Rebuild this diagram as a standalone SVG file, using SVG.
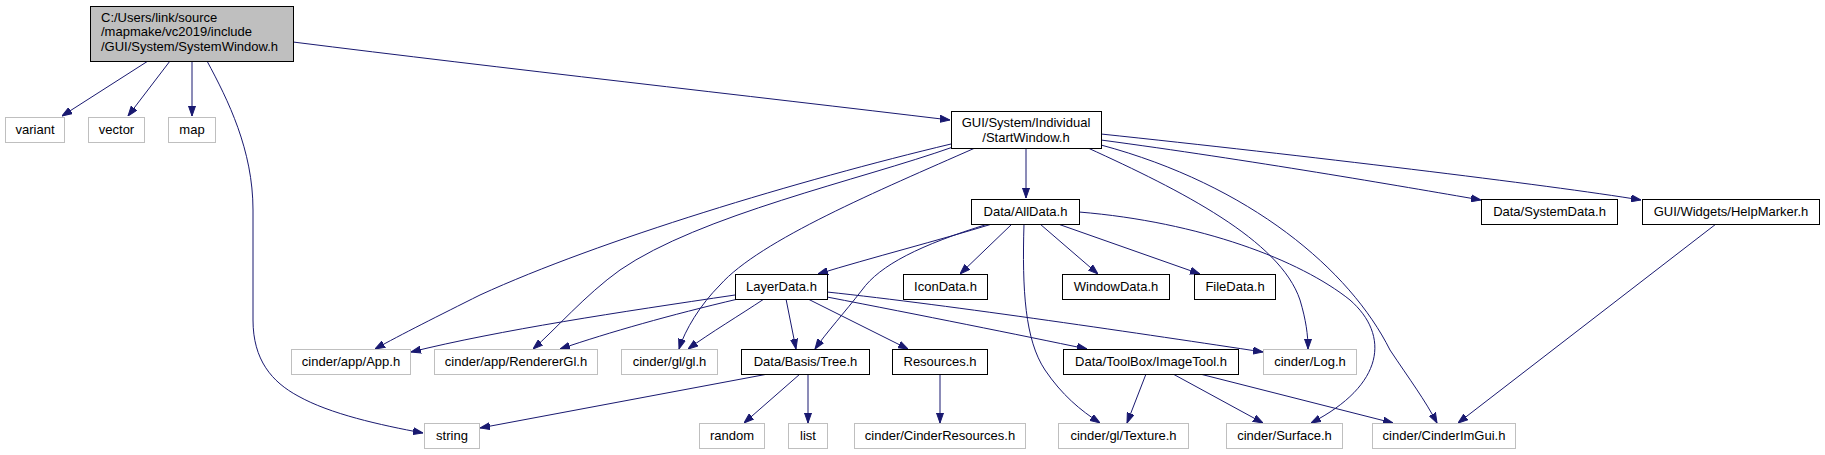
<svg xmlns="http://www.w3.org/2000/svg" width="1825" height="455" viewBox="0 0 1825 455">
<style>
.n rect{fill:#fff;stroke:#000;stroke-width:1}
.g rect{fill:#fff;stroke:#bfbfbf;stroke-width:1}
.m rect{fill:#bfbfbf;stroke:#000;stroke-width:1}
text{font-family:"Liberation Sans",Arial,sans-serif;font-size:13px;fill:#000}
.c{text-anchor:middle}
#edges path{fill:none;stroke:#191970;stroke-width:1;marker-end:url(#ah)}
</style>
<defs>
<marker id="ah" markerUnits="userSpaceOnUse" viewBox="0 -4 10 8" refX="10" refY="0" markerWidth="10" markerHeight="8" orient="auto">
<path d="M0,-3.5 L10,0 L0,3.5 z" fill="#191970" stroke="#191970" stroke-width="1"/>
</marker>
</defs>
<rect width="1825" height="455" fill="#fff"/>
<g id="edges">
<path d="M148,61 L62,116"/>
<path d="M170,61 L128,116"/>
<path d="M192,61 L192,116"/>
<path d="M207,61 C228,100 253,150 253,210 L253,320 C253,360 272,382 298,396 C330,414 380,425 423,433"/>
<path d="M293,42 C500,68 750,96 950,120"/>
<path d="M1026,148 L1026,198"/>
<path d="M1101,140 C1250,160 1400,186 1481,200"/>
<path d="M1101,134 C1300,155 1550,185 1641,200"/>
<path d="M951,144 C800,180 600,240 480,295 C440,315 400,335 375,349"/>
<path d="M953,147 C860,180 700,215 620,270 C585,295 555,330 533,349"/>
<path d="M975,148 C880,190 760,240 720,285 C700,305 685,330 679,349"/>
<path d="M1088,148 C1180,190 1280,240 1300,300 C1306,320 1308,335 1308,349"/>
<path d="M1101,145 C1250,185 1350,270 1390,350 C1410,380 1425,400 1437,423"/>
<path d="M992,224 C940,240 870,258 818,274"/>
<path d="M988,224 C920,245 880,265 862,290 C845,312 826,333 815,349"/>
<path d="M1012,224 L960,274"/>
<path d="M1024,224 C1022,290 1025,340 1045,370 C1062,395 1080,410 1100,423"/>
<path d="M1040,224 L1098,274"/>
<path d="M1058,224 L1200,274"/>
<path d="M1079,212 C1200,222 1300,260 1350,300 C1390,335 1385,385 1311,423"/>
<path d="M735,295 C620,312 500,330 411,352"/>
<path d="M738,299 C670,315 610,332 560,349"/>
<path d="M764,299 C740,315 710,333 688,349"/>
<path d="M786,299 L796,349"/>
<path d="M808,299 L908,349"/>
<path d="M827,292 C950,305 1150,335 1263,352"/>
<path d="M827,297 C920,315 1020,335 1087,349"/>
<path d="M768,374 L480,428"/>
<path d="M800,374 L744,423"/>
<path d="M808,374 L808,423"/>
<path d="M940,374 L940,423"/>
<path d="M1146,374 L1127,423"/>
<path d="M1173,374 L1263,423"/>
<path d="M1200,374 L1393,423"/>
<path d="M1716,224 L1458,423"/>
</g>
<g id="main" class="m"><rect x="90.5" y="6.5" width="203" height="55"/><text x="101" y="21.5">C:/Users/link/source</text><text x="101" y="36">/mapmake/vc2019/include</text><text x="101" y="50.5">/GUI/System/SystemWindow.h</text></g>
<g id="variant" class="g"><rect x="5.5" y="117.5" width="59" height="25"/><text class="c" x="35" y="134">variant</text></g>
<g id="vector" class="g"><rect x="88.5" y="117.5" width="56" height="25"/><text class="c" x="116.5" y="134">vector</text></g>
<g id="map" class="g"><rect x="168.5" y="117.5" width="47" height="25"/><text class="c" x="192" y="134">map</text></g>
<g id="startwindow" class="n"><rect x="951.5" y="111.5" width="150" height="37"/><text class="c" x="1026" y="127">GUI/System/Individual</text><text class="c" x="1026" y="141.5">/StartWindow.h</text></g>
<g id="alldata" class="n"><rect x="971.5" y="199.5" width="108" height="25"/><text class="c" x="1025.5" y="216">Data/AllData.h</text></g>
<g id="systemdata" class="n"><rect x="1481.5" y="199.5" width="136" height="25"/><text class="c" x="1549.5" y="216">Data/SystemData.h</text></g>
<g id="helpmarker" class="n"><rect x="1642.5" y="199.5" width="177" height="25"/><text class="c" x="1731" y="216">GUI/Widgets/HelpMarker.h</text></g>
<g id="layerdata" class="n"><rect x="735.5" y="274.5" width="92" height="25"/><text class="c" x="781.5" y="291">LayerData.h</text></g>
<g id="icondata" class="n"><rect x="903.5" y="274.5" width="84" height="25"/><text class="c" x="945.5" y="291">IconData.h</text></g>
<g id="windowdata" class="n"><rect x="1062.5" y="274.5" width="107" height="25"/><text class="c" x="1116" y="291">WindowData.h</text></g>
<g id="filedata" class="n"><rect x="1194.5" y="274.5" width="81" height="25"/><text class="c" x="1235" y="291">FileData.h</text></g>
<g id="apph" class="g"><rect x="291.5" y="349.5" width="119" height="25"/><text class="c" x="351" y="366">cinder/app/App.h</text></g>
<g id="renderergl" class="g"><rect x="434.5" y="349.5" width="163" height="25"/><text class="c" x="516" y="366">cinder/app/RendererGl.h</text></g>
<g id="glh" class="g"><rect x="621.5" y="349.5" width="96" height="25"/><text class="c" x="669.5" y="366">cinder/gl/gl.h</text></g>
<g id="tree" class="n"><rect x="741.5" y="349.5" width="128" height="25"/><text class="c" x="805.5" y="366">Data/Basis/Tree.h</text></g>
<g id="resources" class="n"><rect x="892.5" y="349.5" width="95" height="25"/><text class="c" x="940" y="366">Resources.h</text></g>
<g id="imagetool" class="n"><rect x="1063.5" y="349.5" width="175" height="25"/><text class="c" x="1151" y="366">Data/ToolBox/ImageTool.h</text></g>
<g id="logh" class="g"><rect x="1263.5" y="349.5" width="93" height="25"/><text class="c" x="1310" y="366">cinder/Log.h</text></g>
<g id="string" class="g"><rect x="424.5" y="423.5" width="55" height="25"/><text class="c" x="452" y="440">string</text></g>
<g id="random" class="g"><rect x="699.5" y="423.5" width="65" height="25"/><text class="c" x="732" y="440">random</text></g>
<g id="list" class="g"><rect x="788.5" y="423.5" width="39" height="25"/><text class="c" x="808" y="440">list</text></g>
<g id="cinderresources" class="g"><rect x="854.5" y="423.5" width="171" height="25"/><text class="c" x="940" y="440">cinder/CinderResources.h</text></g>
<g id="texture" class="g"><rect x="1058.5" y="423.5" width="130" height="25"/><text class="c" x="1123.5" y="440">cinder/gl/Texture.h</text></g>
<g id="surface" class="g"><rect x="1226.5" y="423.5" width="116" height="25"/><text class="c" x="1284.5" y="440">cinder/Surface.h</text></g>
<g id="cinderimgui" class="g"><rect x="1372.5" y="423.5" width="143" height="25"/><text class="c" x="1444" y="440">cinder/CinderImGui.h</text></g>
</svg>
